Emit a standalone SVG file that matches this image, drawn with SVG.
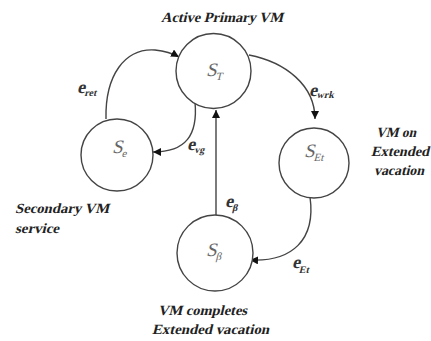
<svg xmlns="http://www.w3.org/2000/svg" width="431" height="341" viewBox="0 0 431 341">
<style>
.node circle{fill:#fff;stroke:#444;stroke-width:1.4}
.conn path{fill:none;stroke:#444;stroke-width:1.4}
text{font-family:'Liberation Serif','Times New Roman',serif}
.nl{font-size:19px;fill:#666}
.ns{font-size:11px}
.el{font-weight:bold;font-size:18px;fill:#333}
.es{font-size:10px}
.cap text{font-weight:bold;font-size:14px;fill:#222}
</style>
<defs>
<marker id="ah" viewBox="0 0 10 10" refX="10" refY="5" markerWidth="8" markerHeight="8" markerUnits="userSpaceOnUse" orient="auto">
<path d="M0,0 L10,5 L0,10 Z" fill="#111"/>
</marker>
</defs>
<rect width="431" height="341" fill="#fff"/>
<g id="connectors" class="conn">
<path d="M106,119 C105,75 125,48 155,50 C165,51 172,53 179,57" marker-end="url(#ah)"/>
<path d="M195,102 C198,135 186,152 153,152" marker-end="url(#ah)"/>
<path d="M216,215 L216,110" marker-end="url(#ah)"/>
<path d="M249,55 C285,62 315,85 315,119" marker-end="url(#ah)"/>
<path d="M310,197 C316,240 292,262 250,260" marker-end="url(#ah)"/>
</g>
<g id="node-ST" class="node">
<circle cx="213.5" cy="71" r="37.5"/>
<text transform="translate(206,76) skewX(-14)" class="nl">S<tspan class="ns" dy="4">T</tspan></text>
</g>
<g id="node-Se" class="node">
<circle cx="117" cy="155" r="36"/>
<text transform="translate(112,153) skewX(-14)" class="nl">S<tspan class="ns" dy="4">e</tspan></text>
</g>
<g id="node-SEt" class="node">
<circle cx="314" cy="163" r="35"/>
<text transform="translate(304,157) skewX(-14)" class="nl">S<tspan class="ns" dy="4">Et</tspan></text>
</g>
<g id="node-Sb" class="node">
<circle cx="215" cy="253" r="38"/>
<text transform="translate(206,256) skewX(-14)" class="nl">S<tspan class="ns" dy="4">β</tspan></text>
</g>
<g id="edge-labels">
<text transform="translate(77,93) skewX(-14)" class="el">e<tspan class="es" dy="3">ret</tspan></text>
<text transform="translate(187,150) skewX(-14)" class="el">e<tspan class="es" dy="3">vg</tspan></text>
<text transform="translate(309,96) skewX(-14)" class="el">e<tspan class="es" dy="2">wrk</tspan></text>
<text transform="translate(225,207) skewX(-14)" class="el">e<tspan class="es" dy="4">β</tspan></text>
<text transform="translate(292,268) skewX(-14)" class="el">e<tspan class="es" dy="5">Et</tspan></text>
</g>
<g id="captions" class="cap">
<text transform="translate(161,22) skewX(-14)" textLength="122" lengthAdjust="spacingAndGlyphs">Active Primary VM</text>
<text transform="translate(15,213) skewX(-14)" textLength="94" lengthAdjust="spacingAndGlyphs">Secondary VM</text>
<text transform="translate(15,233) skewX(-14)" textLength="44" lengthAdjust="spacingAndGlyphs">service</text>
<text transform="translate(376,137) skewX(-14)" textLength="40" lengthAdjust="spacingAndGlyphs">VM on</text>
<text transform="translate(371,156) skewX(-14)" textLength="58" lengthAdjust="spacingAndGlyphs">Extended</text>
<text transform="translate(374,175) skewX(-14)" textLength="50" lengthAdjust="spacingAndGlyphs">vacation</text>
<text transform="translate(158,315) skewX(-14)" textLength="89" lengthAdjust="spacingAndGlyphs">VM completes</text>
<text transform="translate(152,334) skewX(-14)" textLength="117" lengthAdjust="spacingAndGlyphs">Extended vacation</text>
</g>
</svg>
